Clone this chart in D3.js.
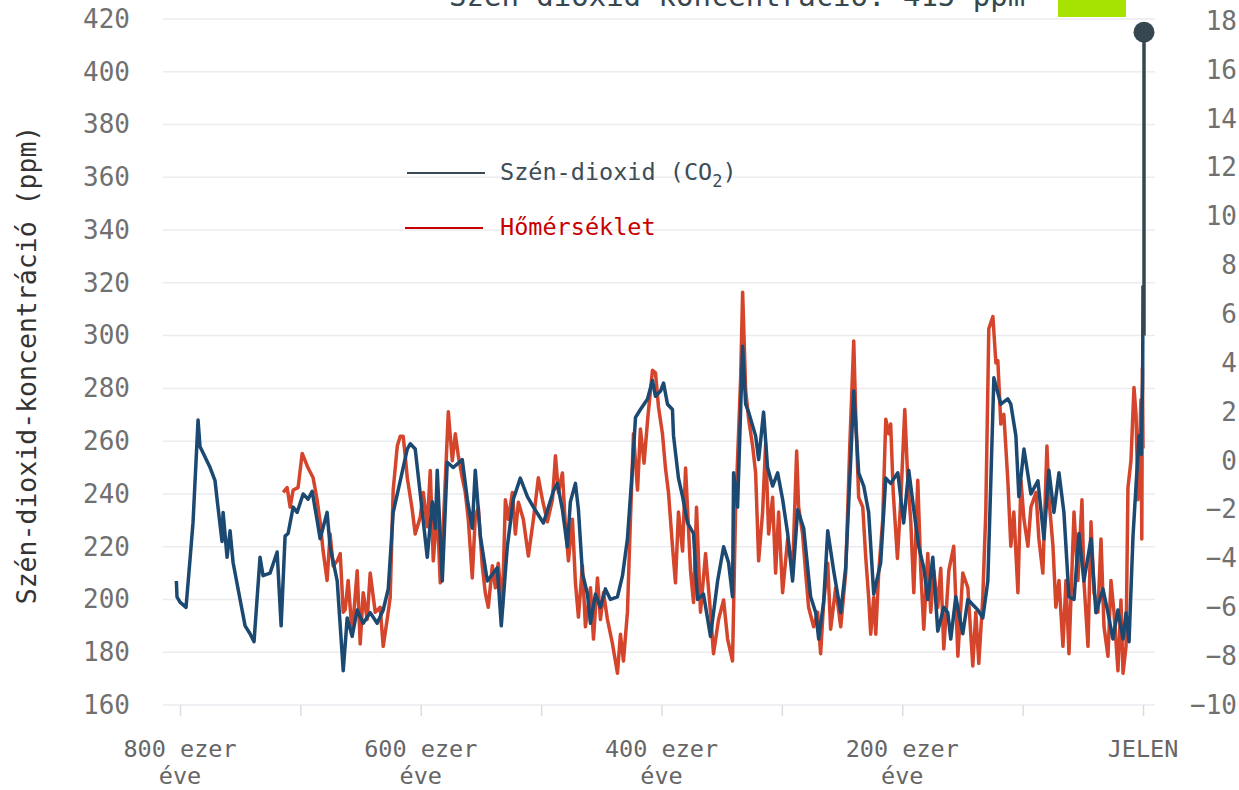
<!DOCTYPE html>
<html>
<head>
<meta charset="utf-8">
<script src="https://d3js.org/d3.v7.min.js"></script>
<style>
  body { margin: 0; background: #fff; }
  svg text { font-family: "DejaVu Sans Mono", monospace; }
</style>
</head>
<body>
<svg id="js_co2_chart" width="1239" height="790"></svg>
<script>
// ezer éve (kyr ago) and CO2 ppm
const co2_ages = [803,802.5,800,795,791.7,789.2,785,783.4,779.2,775,770.9,769.2,765.1,764.2,760.9,758.4,755.9,750.1,745.9,741.8,738.5,733.5,731,725.2,719.3,716,712.7,710.2,706,702.7,697.7,693.6,690.2,686.1,683.6,677.8,675.3,669.4,664.4,661.1,657,652.8,647.8,642,636.2,631.2,627,622.9,617,611.2,608.7,604.6,600.4,594.6,590.4,587.9,586.3,582.1,578,573,565.5,561.3,557.2,554.7,550.5,544.7,539.7,536.4,533.1,528.1,523.1,517.3,511.4,506.4,498.1,489.8,486.5,482.3,478.2,475.7,471.5,469,465.7,461.5,459,454.9,450.7,446.6,442.4,436.6,432.4,428.3,424.1,421.6,417.5,411.6,407.5,405,400.8,398.3,395,390.9,390,385.9,382.5,378.4,373.4,370.1,365.1,359.3,353.4,348.4,344.3,341,340.1,336.8,332.6,330.1,327.6,321.8,319.3,315.2,311.9,307.7,303.5,299.4,295.2,291.1,286.9,281.9,276.1,271.9,269.4,265.3,261.9,257,251.1,247,242.8,240.3,236.2,232,227.9,223.7,217.9,213.7,209.6,203.7,198.8,194.6,190.4,186.3,182.1,178.8,174.6,170.5,165.5,162.2,159.7,155.5,149.7,145.5,137.2,133.1,128.9,126.4,123.9,118.1,112.3,109.8,105.6,103.1,98.9,93.1,87.3,82.3,78.2,74,69.8,65.7,61.5,57.3,53.2,49.1,43.2,39.1,33.3,29.1,25,20.8,16.6,14.1,11.6,8.3,5.8,3.3,1.5,0.8,0.3,0]
const co2_values = [207,201,199,197,215,229,268,258,254,250,245,238,222,233,216,226,214,200,190,187,184,216,209,210,218,190,224,225,235,233,240,238,241,230,223,233,220,207,173,193,186,196,191,195,191,196,204,233,245,257,259,257,240,216,237,227,249,207,252,250,253,238,227,249,224,207,210,212,190,220,238,246,239,235,229,241,244,234,220,237,244,234,210,202,191,202,197,204,200,201,209,223,250,269,272,276,283,277,279,282,274,272,262,246,239,229,225,200,202,186,207,220,214,201,248,235,296,274,271,262,253,271,250,243,248,238,225,207,234,227,201,195,185,199,226,211,195,212,253,279,248,243,233,202,214,246,244,248,229,249,234,220,212,200,216,188,197,195,185,201,187,200,196,193,207,245,284,274,276,274,262,239,257,240,245,223,249,233,248,233,201,200,225,207,223,195,204,195,185,196,185,195,184,224,243,262,255,273,283,319]

// temperature anomaly (°C)
const temp_ages = [714.3,711,708.5,706,701.9,698.5,696,693.6,689.4,686.1,683.6,681.1,677.8,675.3,672.8,669.4,666.9,664.4,662.8,660.3,657,652.8,650.3,647.8,644.5,642,637.8,633.7,631.2,627.9,625.4,622.9,619.5,617,614.6,612.9,611.2,607.1,604.6,600.4,597.9,594.6,592.1,589.6,586.3,583.8,581.3,577.1,573.8,571.3,568.8,565.5,563,560.5,557.2,554.7,552.2,548.9,546.4,543.9,540.5,538,535.6,532.2,529.7,527.2,523.9,521.4,518.9,514.8,510.6,506.4,502.3,498.9,494.8,490.6,488.1,485.6,482.3,479.8,477.3,474,471.5,469,465.7,463.2,459,456.5,453.2,450.7,448.2,444.9,440.7,436.6,434.1,431.6,428.3,425.8,423.3,419.9,417.5,414.5,411.3,407.5,405,402.5,399.2,396.7,394.2,390.9,388.4,385.9,382.5,380,375.9,373.4,370.9,367.6,363.4,359.3,356.8,352.6,348.4,345.1,341,338.5,334.3,332.6,330.1,327.6,324.3,321.8,319.3,316,313.5,311,307.7,305.2,302.7,299.4,295.2,291.1,287.7,286.1,282.8,280.2,277.8,273.6,270.3,267.8,265.3,261.9,259.5,255.3,251.1,247,243.6,240.3,238.7,236.2,232.8,230.4,227.9,226.2,223.7,222,219.6,216.2,213.7,211.2,209.6,207.5,204,201.2,197.9,195.4,192.9,190.4,187.1,184.6,182.1,178.8,176.3,173.8,170.5,168,165.5,161.3,157.2,153.8,149.7,145.5,141.4,138.9,136.4,133.1,130.6,128.1,124.7,122.2,120.6,118.1,115.6,112.3,109.8,107.3,103.9,101.4,98.9,95.6,93.1,88.9,86.5,83.2,79.8,78.2,74.8,72.4,69.8,66.5,64,61.5,57.3,54.1,50.7,49.1,45.7,43.2,40.7,37.4,34.9,32.4,29.1,26.6,24.1,20.8,18.3,16.6,14.1,12.5,10,7.5,5.8,4.2,1.7,1,0.5,0]
const temp_values = [-1.3,-1.1,-1.9,-1.2,-1.1,0.3,0,-0.3,-0.7,-1.6,-2.5,-3.7,-4.9,-3,-4.3,-4.1,-3.8,-6.2,-6.1,-4.9,-7.1,-4.5,-7.5,-5.4,-6.5,-4.6,-6.2,-6,-7.6,-6.5,-5.6,-1.2,0.6,1,1,0.2,-0.7,-2,-3,-2.3,-1.3,-2.7,-0.4,-4.1,-2,-5,-2.7,2,0,1.1,0.2,-0.7,-1.3,-2.4,-4.8,-2.3,-1.9,-4.3,-5.4,-6,-4.3,-5.2,-4.2,-6,-1.6,-2.4,-1.3,-3,-1.7,-2.4,-3.9,-2.4,-0.7,-1.6,-2.5,-1.6,0.2,-1.3,-0.5,-2.7,-4.1,-2.4,-5,-6.4,-4.3,-6.8,-5.2,-7.3,-4.8,-6.5,-5.4,-6.5,-7.5,-8.7,-7.1,-8.2,-6.2,-2.4,1.1,-1.2,1.3,-0.1,1.8,3.7,3.6,2.2,1.1,-0.3,-1.3,-3.5,-5,-2.1,-3.7,-0.3,-4.5,-5.8,-1.9,-6.2,-3.8,-6.2,-7.9,-6.5,-5.7,-7.3,-8.2,-2.1,3.3,6.9,2.9,1.7,0.6,-0.5,-4.1,-2.1,0.7,-3,-1.5,-4.6,-2.1,-5.4,-3.2,-4.5,0.4,-1.9,-3,-4.6,-6,-6.8,-6.2,-7.9,-5.8,-4.2,-6.9,-5.2,-6.8,-4.6,0.6,4.9,2,-1.5,-1.9,-3.9,-5.6,-7.1,-5.6,-7.1,-4.6,-2.4,1.7,1.1,1.5,-1.3,-4,-1.6,2.1,-0.8,-2.5,-5.4,-0.8,-4.5,-6.9,-3.8,-6.2,-4.5,-6,-4.4,-7.7,-4.5,-3.5,-8,-4.6,-5.2,-8.4,-6.2,-8.3,-5.6,-2.1,5.4,5.9,4,4.1,1.5,1.9,-0.8,-3.5,-2.1,-5.4,-0.8,-2.4,-3.5,-1.9,-1.3,-3.2,-4.6,0.6,-1.5,-3.5,-6,-4.9,-7.6,-4.9,-7.9,-2.1,-4.9,-1.6,-4.9,-7.6,-2.5,-5.4,-6.2,-3.2,-6.8,-8,-4.9,-6.2,-8.6,-5.7,-8.7,-7.6,-1.1,0,3,1.9,-1.6,2.5,-3.2,3.8,0.5]

const co2_now = 415
const co2_stem_base = 300

const co2_ticks = [160,180,200,220,240,260,280,300,320,340,360,380,400,420]
const temp_ticks = [-10,-8,-6,-4,-2,0,2,4,6,8,10,12,14,16,18]
const x_tick_values = [800,700,600,500,400,300,200,100,0]
const x_label_values = [800,600,400,200,0]
const x_labels = [["800 ezer","éve"],["600 ezer","éve"],["400 ezer","éve"],["200 ezer","éve"],["JELEN"]]

window.onload = function() {
  render_chart()
}

function render_chart(){
  let svg = d3.select("#js_co2_chart")

  let x = d3.scaleLinear().domain([800, 0]).range([180, 1143])
  let y_co2 = d3.scaleLinear().domain([160, 420]).range([705, 19])
  let y_temp = d3.scaleLinear().domain([-10, 18]).range([705, 21])

  // title, mostly off the top edge
  svg.append("text")
    .attr("x", 449).attr("y", 6)
    .attr("font-size", 29)
    .attr("fill", "#37474f")
    .text("Szén-dioxid koncentráció: " + co2_now + " ppm")
  svg.append("rect")
    .attr("x", 1058).attr("y", 0)
    .attr("width", 68).attr("height", 17)
    .attr("fill", "#a6e300")

  // grid
  svg.append("g").selectAll("line").data(co2_ticks).join("line")
    .attr("x1", 163).attr("x2", 1155)
    .attr("y1", d => y_co2(d)).attr("y2", d => y_co2(d))
    .attr("stroke", "#ebebf0")
    .attr("stroke-width", 1.5)

  // bottom ticks
  let x_axis = svg.append("g").attr("transform", `translate(0,${y_co2(160)})`)
    .call(d3.axisBottom(x).tickValues(x_tick_values).tickSize(11).tickFormat(""))
  x_axis.select(".domain").remove()
  x_axis.selectAll(".tick line").attr("stroke", "#dcdce0").attr("stroke-width", 1.5)

  let x_label = svg.append("g").selectAll("text").data(x_label_values).join("text")
    .attr("text-anchor", "middle")
    .attr("font-size", 23.5)
    .attr("fill", "#666")
  x_label.each(function(d, i){
    let lines = x_labels[i]
    lines.forEach((t, j) => {
      d3.select(this).append("tspan")
        .attr("x", x(d))
        .attr("y", 757 + j*27)
        .text(t)
    })
  })

  // left axis
  let y_left = svg.append("g").attr("transform", "translate(163,0)")
    .call(d3.axisLeft(y_co2).tickValues(co2_ticks).tickSize(0).tickPadding(33))
  y_left.select(".domain").remove()
  y_left.selectAll("text")
    .attr("font-family", "DejaVu Sans Mono")
    .attr("font-size", 26)
    .attr("fill", "#707070")

  // right axis, labels end-anchored at the right edge
  let y_right = svg.append("g").attr("transform", "translate(1237,0)")
    .call(d3.axisLeft(y_temp).tickValues(temp_ticks).tickSize(0).tickPadding(0))
  y_right.select(".domain").remove()
  y_right.selectAll("text")
    .attr("font-family", "DejaVu Sans Mono")
    .attr("font-size", 26)
    .attr("fill", "#707070")

  svg.append("text")
    .attr("transform", "translate(36,365) rotate(-90)")
    .attr("text-anchor", "middle")
    .attr("font-size", 26.5)
    .attr("fill", "#333")
    .text("Szén-dioxid-koncentráció (ppm)")

  // series
  let temp_line = d3.line()
    .x((d, i) => x(temp_ages[i]))
    .y(d => y_temp(d))
  svg.append("path")
    .attr("d", temp_line(temp_values))
    .attr("fill", "none")
    .attr("stroke", "#d4452b")
    .attr("stroke-width", 3.5)
    .attr("stroke-linejoin", "round")

  let co2_line = d3.line()
    .x((d, i) => x(co2_ages[i]))
    .y(d => y_co2(d))
  svg.append("path")
    .attr("d", co2_line(co2_values))
    .attr("fill", "none")
    .attr("stroke", "#1b4972")
    .attr("stroke-width", 3.5)
    .attr("stroke-linejoin", "round")

  // today's value
  svg.append("line")
    .attr("x1", x(0) + 1).attr("x2", x(0) + 1)
    .attr("y1", y_co2(co2_stem_base)).attr("y2", y_co2(co2_now))
    .attr("stroke", "#37474f")
    .attr("stroke-width", 3.5)
  svg.append("circle")
    .attr("cx", x(0) + 1).attr("cy", y_co2(co2_now))
    .attr("r", 10.5)
    .attr("fill", "#37474f")

  // legend
  render_legend(svg, 407, 173, "#3b4a54", "#3d4c55", "Szén-dioxid (CO", "2", ")")
  render_legend(svg, 405, 228, "#c80000", "#c80000", "Hőmérséklet")
}

function render_legend(svg, x, y, line_color, text_color, label, sub, after){
  svg.append("line")
    .attr("x1", x).attr("x2", x + 78)
    .attr("y1", y).attr("y2", y)
    .attr("stroke", line_color)
    .attr("stroke-width", 2)
  let text = svg.append("text")
    .attr("x", 500).attr("y", y + 7)
    .attr("font-size", 23.5)
    .attr("fill", text_color)
    .text(label)
  if (sub) {
    text.append("tspan").attr("font-size", 17).attr("dy", 7).text(sub)
    text.append("tspan").attr("dy", -7).text(after)
  }
}
</script>
</body>
</html>
